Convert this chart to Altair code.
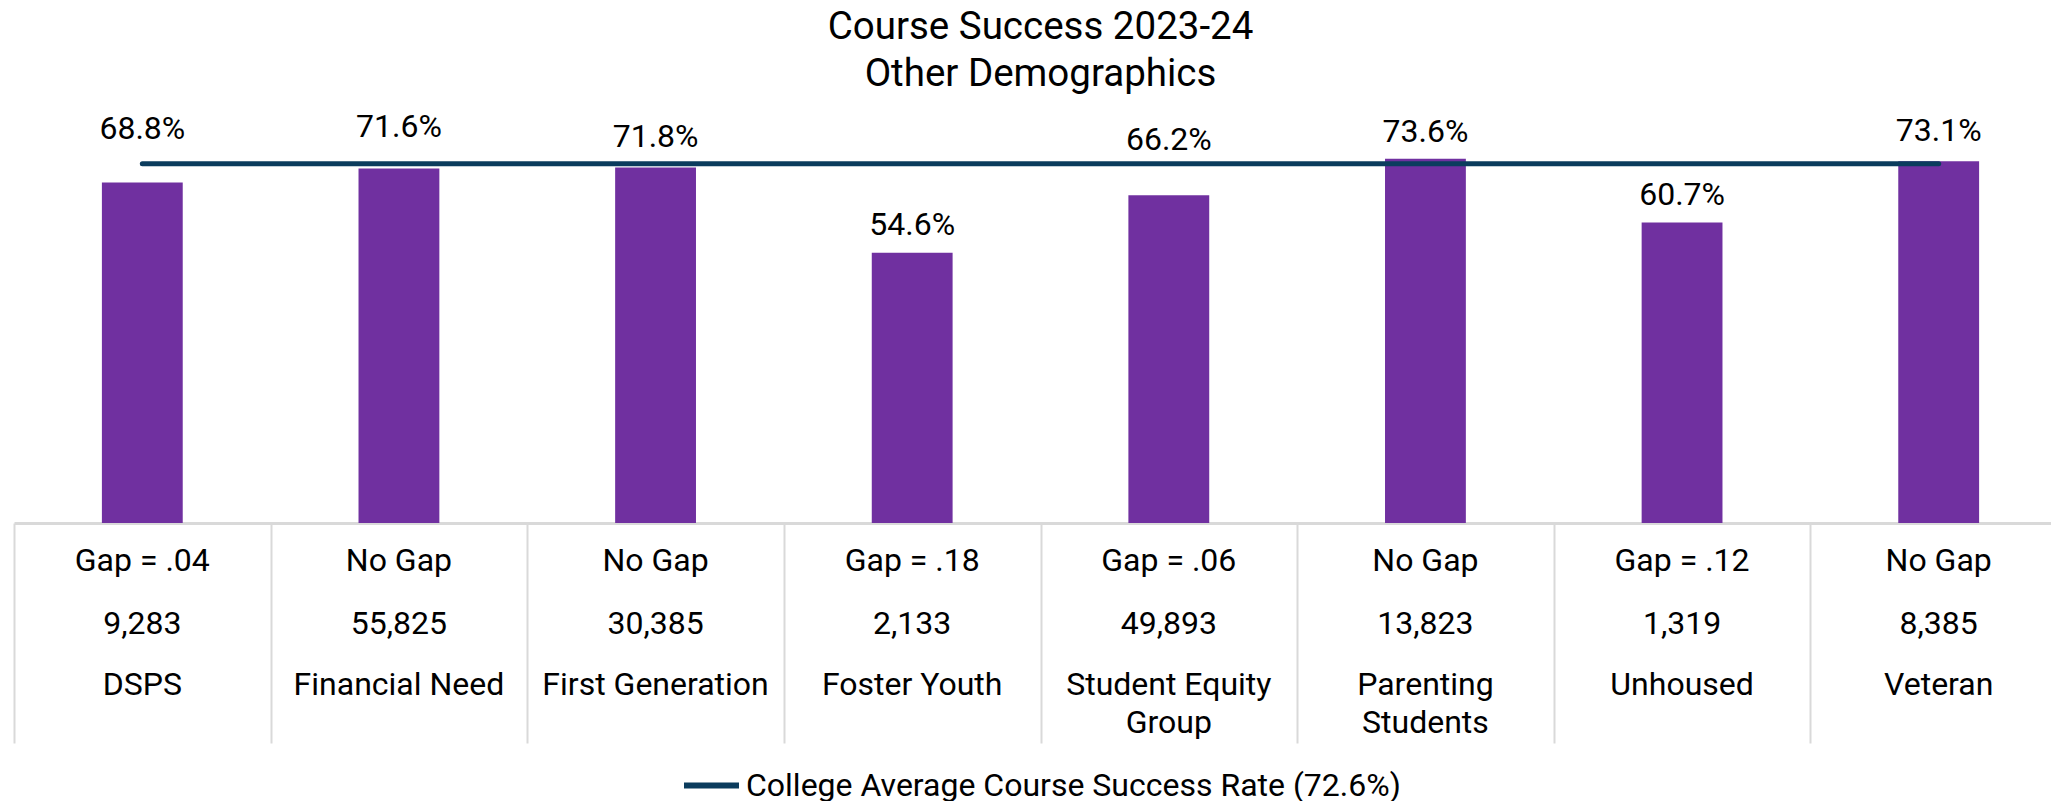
import altair as alt
import pandas as pd

# ---------------- data ----------------
categories = ["DSPS", "Financial Need", "First Generation", "Foster Youth",
              "Student Equity Group", "Parenting Students", "Unhoused", "Veteran"]
success = [68.8, 71.6, 71.8, 54.6, 66.2, 73.6, 60.7, 73.1]
gap_labels = ["Gap = .04", "No Gap", "No Gap", "Gap = .18",
              "Gap = .06", "No Gap", "Gap = .12", "No Gap"]
counts = [9283, 55825, 30385, 2133, 49893, 13823, 1319, 8385]
college_avg = 72.6
avg_label = "College Average Course Success Rate (72.6%)"

# ---------------- styling ----------------
BAR_COLOR = "#7030A0"
LINE_COLOR = "#0B3C5D"
GRID_COLOR = "#D9D9D9"
FONT = "Roboto"
FS = 32
TITLE_FS = 38.5
label_dy = [-53, -42, -31, -28, -55, -27, -28, -30]  # value-label offsets above bar tops


def wrap(name):
    if len(name) > 16:
        i = name.rfind(" ")
        return name[:i] + "\n" + name[i + 1:]
    return name


df = pd.DataFrame({
    "category": categories,
    "success": success,
    "label": [f"{v:.1f}%" for v in success],
    "gap": gap_labels,
    "count": [f"{n:,}" for n in counts],
    "name": [wrap(c) for c in categories],
})

avg_df = pd.DataFrame({
    "start": [categories[0]],
    "end": [categories[-1]],
    "avg": [college_avg],
    "series": [avg_label],
})

x_scale = alt.Scale(domain=categories, paddingInner=0, paddingOuter=0, range=[0, 2053])
y_scale = alt.Scale(domain=[0, 80], nice=False, zero=True)

x_axis = alt.Axis(
    title=None,
    labels=False,
    domainColor=GRID_COLOR,
    domainWidth=3,
    ticks=True,
    tickBand="extent",
    tickSize=220,
    tickWidth=2,
    tickColor=GRID_COLOR,
    grid=False,
)

X = alt.X("category:N", scale=x_scale, axis=x_axis, sort=categories)

bars = alt.Chart(df).mark_bar(
    color=BAR_COLOR, width=alt.RelativeBandSize(0.315)
).encode(
    x=X,
    y=alt.Y("success:Q", scale=y_scale, axis=None),
)

value_labels = [
    alt.Chart(df).transform_filter(alt.datum.category == c).mark_text(
        font=FONT, fontSize=FS, color="#000000", baseline="middle", align="center", dy=d
    ).encode(
        x=X,
        y=alt.Y("success:Q", scale=y_scale),
        text="label:N",
    )
    for c, d in zip(categories, label_dy)
]


def table_row(field, dy, baseline="middle"):
    return alt.Chart(df).mark_text(
        font=FONT, fontSize=FS, color="#000000", baseline=baseline, align="center",
        dy=dy, lineBreak="\n", lineHeight=38,
    ).encode(
        x=X,
        y=alt.datum(0, scale=y_scale),
        text=f"{field}:N",
    )


gap_row = table_row("gap", 38)
count_row = table_row("count", 101)
name_row = table_row("name", 147, baseline="top")

avg_rule = alt.Chart(avg_df).mark_rule(
    strokeWidth=5, strokeCap="round"
).encode(
    x=alt.X("start:N", scale=x_scale, sort=categories),
    x2="end:N",
    y=alt.Y("avg:Q", scale=y_scale),
    color=alt.Color(
        "series:N",
        scale=alt.Scale(range=[LINE_COLOR]),
        legend=alt.Legend(
            title=None,
            orient="none",
            legendX=667,
            legendY=628,
            direction="horizontal",
            symbolType="stroke",
            symbolStrokeWidth=6,
            symbolSize=3025,
            symbolStrokeColor=LINE_COLOR,
            labelFont=FONT,
            labelFontSize=FS,
            labelColor="#000000",
            labelLimit=0,
            labelOffset=4,
            padding=0,
        ),
    ),
)

chart = alt.layer(
    bars, avg_rule, gap_row, count_row, name_row, *value_labels
).properties(
    width=2037,
    height=396,
    autosize=alt.AutoSizeParams(type="none"),
    padding={"top": 119, "left": 6, "right": 0, "bottom": 290},
    title=alt.Title(
        ["Course Success 2023-24", "Other Demographics"],
        font=FONT,
        fontSize=TITLE_FS,
        fontWeight="normal",
        color="#000000",
        lineHeight=47,
        anchor="middle",
        frame="group",
        offset=16,
        dx=8,
    ),
).configure(
    font=FONT
).configure_view(
    stroke=None
).configure_title(
    font=FONT, fontSize=TITLE_FS, fontWeight="normal", color="#000000"
)

chart.save("out.html", embed_options={"renderer": "svg", "actions": False})
